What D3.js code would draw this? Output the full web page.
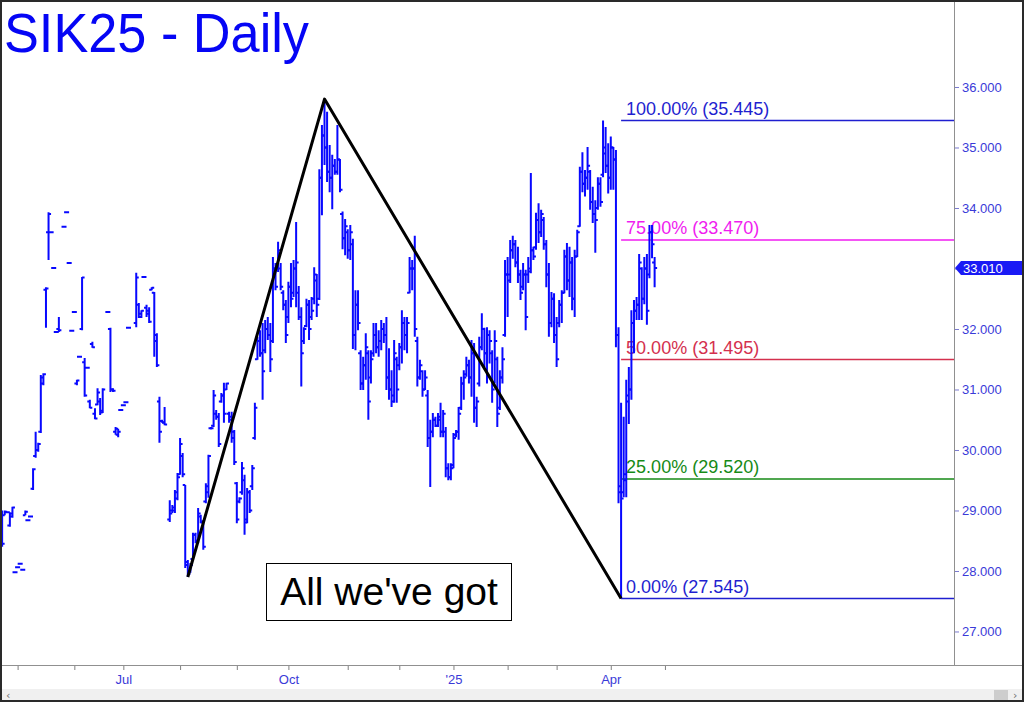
<!DOCTYPE html>
<html><head><meta charset="utf-8">
<script src="https://cdn.jsdelivr.net/npm/d3@7"></script>
<style>
html,body{margin:0;padding:0;background:#fff;}
svg{display:block;}
</style></head><body>
<script>
// ---------------- DATA ----------------
const title = "SIK25 - Daily";
const firstDay = -6; // trading-day index of the first entry (0 = 1 May 2024)
const opens = [
28.95,28.92,28.97,28.75,28.90,27.98,28.06,28.12,28.02,28.92,
28.84,28.90,29.36,29.90,30.00,30.30,31.10,32.65,33.60,33.60,
33.01,31.95,32.00,null,33.69,33.93,33.09,31.97,32.28,31.10,
31.54,32.00,31.45,31.36,30.80,31.75,30.60,30.75,30.80,30.65,
null,32.28,32.00,31.00,30.30,30.25,30.66,30.74,30.79,32.02,
null,null,32.10,32.40,32.20,32.86,32.35,32.30,32.65,32.60,
31.90,30.80,30.48,30.45,null,28.85,29.00,29.00,29.20,29.60,
29.90,29.42,28.15,28.00,28.20,28.60,28.50,28.90,28.80,29.15,
29.30,30.36,30.40,30.60,30.55,30.80,30.90,31.00,30.60,30.55,
30.30,29.45,29.15,29.30,29.50,28.85,29.30,29.40,30.20,31.50,
31.80,31.60,31.65,32.00,31.90,31.80,33.00,33.00,33.00,32.60,
32.40,32.20,32.70,32.60,33.00,32.60,32.20,31.80,32.05,32.40,
32.20,32.50,32.80,32.50,34.50,35.20,35.00,34.60,34.50,34.70,
34.60,34.80,33.90,33.50,33.60,33.30,33.40,31.90,32.40,31.60,
31.10,31.40,31.60,31.20,31.60,31.90,31.70,31.80,32.00,31.90,
31.20,31.00,30.90,31.50,31.40,31.70,32.10,31.90,32.60,33.00,
33.00,31.80,31.20,31.30,31.00,30.90,30.20,30.30,30.50,30.40,
30.50,30.30,30.30,29.70,29.55,29.75,30.25,30.30,30.70,31.10,
31.25,31.40,31.20,31.60,30.70,31.10,31.70,32.00,31.60,31.90,
31.60,31.10,31.50,30.70,31.20,31.90,32.90,32.90,33.30,33.40,
33.10,32.90,32.70,32.90,32.90,32.95,33.30,33.35,33.80,33.60,
33.80,33.40,32.90,32.10,32.50,31.90,32.10,32.40,32.60,33.20,
32.80,33.10,32.50,33.20,33.70,34.60,34.40,34.50,34.60,34.10,
33.90,34.00,34.40,34.55,35.00,34.70,34.50,35.00,34.80,31.90,
29.30,29.30,29.50,30.80,31.00,32.10,32.30,32.40,33.00,32.50,
33.00,32.90,33.60,33.10];
const highs = [
29.00,29.00,28.97,28.97,29.06,27.98,28.06,28.12,28.02,29.00,
28.84,28.90,29.70,30.30,30.12,31.24,31.27,32.69,33.93,33.60,
33.01,31.95,32.20,null,33.69,33.93,33.09,31.97,32.28,31.16,
31.54,32.86,31.52,31.36,30.83,31.79,30.69,31.02,30.86,31.02,
null,32.28,32.02,31.02,30.38,30.35,30.66,30.74,30.79,32.02,
null,null,32.93,32.43,32.31,32.86,32.40,32.36,32.69,32.61,
31.93,30.88,30.50,30.71,null,29.17,29.09,29.34,29.62,30.20,
29.95,29.42,28.18,28.13,28.63,28.63,29.04,28.93,28.84,29.45,
29.92,30.38,30.99,30.66,30.61,30.94,31.11,31.11,30.63,30.63,
30.33,29.47,29.22,29.80,29.59,29.37,29.34,29.75,30.78,31.87,
31.98,32.10,32.15,32.20,32.10,33.19,33.09,33.44,33.09,32.64,
32.48,32.78,33.09,33.14,33.77,32.71,32.36,32.03,32.50,32.48,
32.53,33.02,32.91,34.64,35.37,35.80,35.59,35.04,34.88,34.81,
35.37,34.81,33.94,33.82,33.65,33.72,33.49,32.64,32.64,31.65,
31.54,31.93,31.65,31.65,32.10,32.10,31.98,32.15,32.10,32.20,
31.68,31.32,31.82,31.54,31.77,32.31,32.20,32.20,33.19,33.14,
33.54,31.87,31.49,31.32,31.32,30.99,30.50,30.61,30.55,30.61,
30.78,30.66,30.38,29.78,29.78,30.28,30.33,30.71,31.21,31.32,
31.54,31.49,31.82,31.77,30.88,31.87,32.26,32.02,32.03,31.98,
31.65,31.98,31.54,31.32,31.70,33.14,33.19,33.47,33.54,33.47,
33.36,32.98,33.09,32.98,33.19,34.58,33.36,33.92,34.08,33.97,
33.85,33.47,33.09,32.61,32.59,32.20,32.48,32.64,33.31,33.42,
33.36,33.19,33.31,33.64,34.68,34.92,34.63,35.01,34.63,34.35,
34.13,34.51,34.51,35.445,35.34,35.07,35.18,35.01,34.96,32.03,
30.78,30.55,31.16,31.37,32.31,32.48,32.53,33.24,33.02,33.19,
33.24,33.72,33.72,33.19];
const lows = [
28.40,28.92,28.97,28.73,28.88,27.98,28.06,28.12,28.02,28.92,
28.84,28.90,29.34,29.87,29.97,30.28,31.07,32.02,33.14,33.60,
33.01,31.95,31.95,null,33.69,33.93,33.09,31.97,32.28,31.07,
31.54,31.98,30.88,31.36,30.69,31.69,30.51,30.74,30.58,30.61,
null,32.28,30.96,30.96,30.25,30.21,30.66,30.74,30.79,32.02,
null,null,32.03,32.18,32.18,32.86,32.20,32.10,32.64,31.54,
31.37,30.12,30.45,30.41,null,28.81,28.96,28.96,29.17,29.59,
29.55,28.05,27.90,27.97,28.18,28.46,28.46,28.79,28.35,29.12,
29.21,30.34,30.38,30.50,30.05,30.78,30.45,30.99,30.45,30.12,
29.75,28.79,29.12,29.26,28.60,28.79,28.96,29.34,30.17,31.49,
31.54,30.83,31.60,31.82,31.29,31.77,32.64,32.94,32.64,32.31,
31.77,32.10,32.36,32.53,32.36,32.15,31.05,31.75,32.03,31.82,
32.15,32.41,32.20,32.48,33.88,34.71,34.43,34.26,33.98,34.55,
34.55,34.26,33.32,33.22,33.16,33.14,31.67,31.65,31.98,30.99,
30.99,31.16,30.50,31.10,31.54,31.60,31.54,31.65,31.77,30.99,
30.83,30.71,30.78,30.78,31.32,31.43,31.65,31.60,32.59,32.64,
31.87,31.05,31.16,30.88,30.99,30.05,29.39,30.21,30.38,30.38,
30.21,30.21,29.55,29.50,29.50,29.70,30.21,30.17,30.66,30.83,
31.21,31.10,30.88,30.45,30.38,31.05,31.65,31.37,31.10,31.43,
30.78,31.10,30.38,30.66,31.10,31.87,32.20,32.76,33.16,33.02,
32.76,32.48,32.64,31.98,32.76,32.92,33.14,33.31,33.42,33.52,
33.31,32.69,31.87,32.03,31.77,31.37,32.03,32.10,32.59,32.64,
32.53,32.31,32.20,33.19,33.69,34.26,34.19,34.30,33.97,33.75,
33.26,33.97,34.02,34.51,34.58,34.24,34.30,34.30,31.70,29.12,
27.545,29.22,29.22,30.43,30.83,31.60,32.15,32.15,32.15,32.41,
32.07,32.84,33.17,32.69];
const closes = [
28.45,28.98,28.97,28.95,29.05,27.98,28.06,28.12,28.02,28.98,
28.84,28.90,29.68,30.00,30.10,31.20,31.25,32.67,33.90,33.60,
33.01,31.95,31.98,null,33.69,33.93,33.09,31.97,32.28,31.15,
31.54,32.85,30.90,31.36,30.70,31.70,30.52,30.95,30.62,31.00,
null,32.28,31.00,30.98,30.35,30.30,30.66,30.74,30.79,32.02,
null,null,32.85,32.25,32.30,32.86,32.25,32.12,32.68,31.80,
31.40,30.30,30.46,30.42,null,28.95,29.05,29.30,29.55,30.10,
29.60,28.10,27.95,28.10,28.60,28.50,28.95,28.82,28.40,29.40,
29.90,30.36,30.90,30.55,30.10,30.90,30.60,31.10,30.50,30.20,
29.80,28.85,29.20,29.70,28.80,29.30,29.00,29.70,30.70,31.80,
31.60,31.30,32.00,31.90,31.50,33.00,32.70,33.30,32.70,32.40,
31.90,32.70,32.50,33.00,33.10,32.20,31.60,32.00,32.40,32.00,
32.30,32.90,32.40,34.50,35.20,35.00,34.60,34.50,34.70,34.60,
34.80,34.30,33.50,33.70,33.30,33.60,31.90,32.40,32.10,31.10,
31.40,31.70,30.80,31.50,31.90,31.70,31.80,32.00,31.90,31.20,
31.00,30.80,31.60,31.00,31.70,32.10,31.90,32.10,33.00,33.00,
32.00,31.20,31.40,31.00,31.20,30.20,30.30,30.50,30.40,30.55,
30.30,30.60,29.70,29.55,29.70,30.20,30.30,30.60,31.10,31.20,
31.40,31.20,31.60,30.70,30.80,31.70,32.00,31.60,31.90,31.80,
31.00,31.80,30.60,31.20,31.50,32.90,32.80,33.30,33.40,33.10,
32.90,32.60,32.90,32.20,33.00,33.30,33.20,33.80,33.60,33.90,
33.40,32.90,32.10,32.50,31.90,31.50,32.40,32.60,33.20,32.80,
33.10,32.50,33.20,33.60,34.60,34.40,34.50,34.70,34.10,33.90,
33.80,34.40,34.10,34.90,34.70,34.50,35.00,34.80,31.90,29.40,
29.20,29.60,30.90,31.00,32.10,32.30,32.40,33.10,32.50,33.00,
32.30,33.60,33.40,33.01];

const monthTickDays   = [0, 22, 41, 63, 85, 105, 128, 148, 169, 190, 209, 230, 251];
const monthTickLabels = ["", "", "Jul", "", "", "Oct", "", "", "'25", "", "", "Apr", ""];
const priceTicks = [27, 28, 29, 30, 31, 32, 33, 34, 35, 36];

const fibLevels = [35.445, 33.470, 31.495, 29.520, 27.545];
const fibNames  = ["100.00%", "75.00%", "50.00%", "25.00%", "0.00%"];
const fibColors = ["#1f1fd0", "#f01cf0", "#d4304e", "#168a16", "#1f1fd0"];

const swingDays   = [66, 119, 234];
const swingPrices = [27.90, 35.80, 27.545];

const lastPrice = 33.010;
const noteText = "All we've got";

// ---------------- LAYOUT ----------------
const W = 1024, H = 702;
const plotR = 954, plotB = 665;
const barColor = "#0808ff";
const axisText = "#3a3ad8";

const svg = d3.select("body").append("svg").attr("width", W).attr("height", H);
svg.append("rect").attr("width", W).attr("height", H).attr("fill", "#fff");

const x = d3.scaleLinear().domain([-6.824, 363.08]).range([0, plotR]);
const y = d3.scaleLinear().domain([26.446, 37.438]).range([plotB, 0]);

svg.append("defs").append("clipPath").attr("id", "plotclip")
  .append("rect").attr("x", 0).attr("y", 0).attr("width", plotR).attr("height", plotB);

const plot = svg.append("g").attr("clip-path", "url(#plotclip)");

// Title
svg.append("text").attr("x", 4).attr("y", 52)
  .attr("font-family", "'Liberation Sans', Arial, sans-serif")
  .attr("font-size", 55).attr("fill", "#0505f5")
  .attr("textLength", 305).attr("lengthAdjust", "spacingAndGlyphs")
  .text(title);

// Fibonacci levels
const fibX0 = x(swingDays[2]);
const fg = plot.append("g");
fibLevels.forEach((lv, i) => {
  fg.append("line").attr("x1", fibX0).attr("x2", plotR)
    .attr("y1", y(lv)).attr("y2", y(lv))
    .attr("stroke", fibColors[i]).attr("stroke-width", 1.5);
  fg.append("text").attr("x", fibX0 + 5).attr("y", y(lv) - 6)
    .attr("font-family", "'Liberation Sans', Arial, sans-serif")
    .attr("font-size", 18).attr("fill", fibColors[i])
    .text(`${fibNames[i]} (${d3.format(".3f")(lv)})`);
});

// OHLC bars
const bars = d3.range(highs.length)
  .map(i => ({ d: firstDay + i, o: opens[i], h: highs[i], l: lows[i], c: closes[i] }))
  .filter(b => b.h != null);

plot.append("g").selectAll("path").data(bars).join("path")
  .attr("fill", "none").attr("stroke", barColor).attr("stroke-width", 2)
  .attr("d", b => {
    const xd = x(b.d);
    let yh = y(b.h), yl = y(b.l);
    if (yl - yh < 2) { const m = (yh + yl) / 2; yh = m - 1; yl = m + 1; }
    return `M${xd},${yh}V${yl}M${xd - 2.5},${y(b.o)}H${xd}M${xd},${y(b.c)}H${xd + 2.5}`;
  });

// Swing lines
const swing = swingDays.map((d, i) => [d, swingPrices[i]]);
plot.append("path").datum(swing)
  .attr("fill", "none").attr("stroke", "#000").attr("stroke-width", 3)
  .attr("stroke-linejoin", "round")
  .attr("d", d3.line().x(p => x(p[0])).y(p => y(p[1])));

// Note box
const nb = svg.append("g");
nb.append("rect").attr("x", 266.5).attr("y", 563.5).attr("width", 245).attr("height", 57)
  .attr("fill", "#fff").attr("stroke", "#000").attr("stroke-width", 1);
nb.append("text").attr("x", 389).attr("y", 605).attr("text-anchor", "middle")
  .attr("font-family", "'Liberation Sans', Arial, sans-serif")
  .attr("font-size", 39).attr("fill", "#000").text(noteText);

// Right price axis
const yAxis = d3.axisRight(y).tickValues(priceTicks).tickFormat(d3.format(".3f"))
  .tickSize(5).tickPadding(3);
const ya = svg.append("g").attr("transform", `translate(${plotR},0)`).call(yAxis);
ya.select(".domain").remove();
ya.selectAll(".tick line").attr("stroke", "#7a7ad0");
ya.selectAll(".tick text").attr("fill", axisText)
  .attr("font-family", "'Liberation Sans', Arial, sans-serif").attr("font-size", 13);
svg.append("line").attr("x1", plotR + 0.5).attr("x2", plotR + 0.5).attr("y1", 0).attr("y2", plotB)
  .attr("stroke", "#909090").attr("stroke-width", 1);

// Last price tag
const yc = y(lastPrice);
svg.append("path")
  .attr("d", `M${plotR + 1},${yc}L${plotR + 7},${yc - 7}H1022V${yc + 7}H${plotR + 7}Z`)
  .attr("fill", "#1a1af5");
svg.append("text").attr("x", plotR + 9).attr("y", yc).attr("dy", "0.36em")
  .attr("font-family", "'Liberation Sans', Arial, sans-serif").attr("font-size", 13)
  .attr("fill", "#fff").text(d3.format(".3f")(lastPrice));

// Bottom time axis
const xAxis = d3.axisBottom(x).tickValues(monthTickDays)
  .tickFormat((d, i) => monthTickLabels[i]).tickSize(5).tickPadding(5);
const xa = svg.append("g").attr("transform", `translate(0,${plotB})`).call(xAxis);
xa.select(".domain").remove();
xa.selectAll(".tick line").attr("stroke", "#808080");
xa.selectAll(".tick text").attr("fill", axisText)
  .attr("font-family", "'Liberation Sans Narrow', 'Liberation Sans', Arial, sans-serif")
  .attr("font-size", 13);
svg.append("line").attr("x1", 0).attr("x2", W).attr("y1", plotB + 0.5).attr("y2", plotB + 0.5)
  .attr("stroke", "#909090").attr("stroke-width", 1);

// Scrollbar
svg.append("rect").attr("x", 1).attr("y", 689).attr("width", W - 2).attr("height", 12).attr("fill", "#f0f0f0");
svg.append("rect").attr("x", 994).attr("y", 690).attr("width", 14).attr("height", 10).attr("fill", "#cdcdcd");
svg.append("text").attr("x", 6).attr("y", 699).attr("font-size", 11).attr("fill", "#707070")
  .attr("font-family", "'DejaVu Sans', sans-serif").text("‹");
svg.append("text").attr("x", 1013).attr("y", 699).attr("font-size", 11).attr("fill", "#707070")
  .attr("font-family", "'DejaVu Sans', sans-serif").text("›");

// Outer frame
svg.append("rect").attr("x", 1).attr("y", 1).attr("width", W - 2).attr("height", H - 2)
  .attr("fill", "none").attr("stroke", "#2a2a2a").attr("stroke-width", 2);
</script>
</body></html>
